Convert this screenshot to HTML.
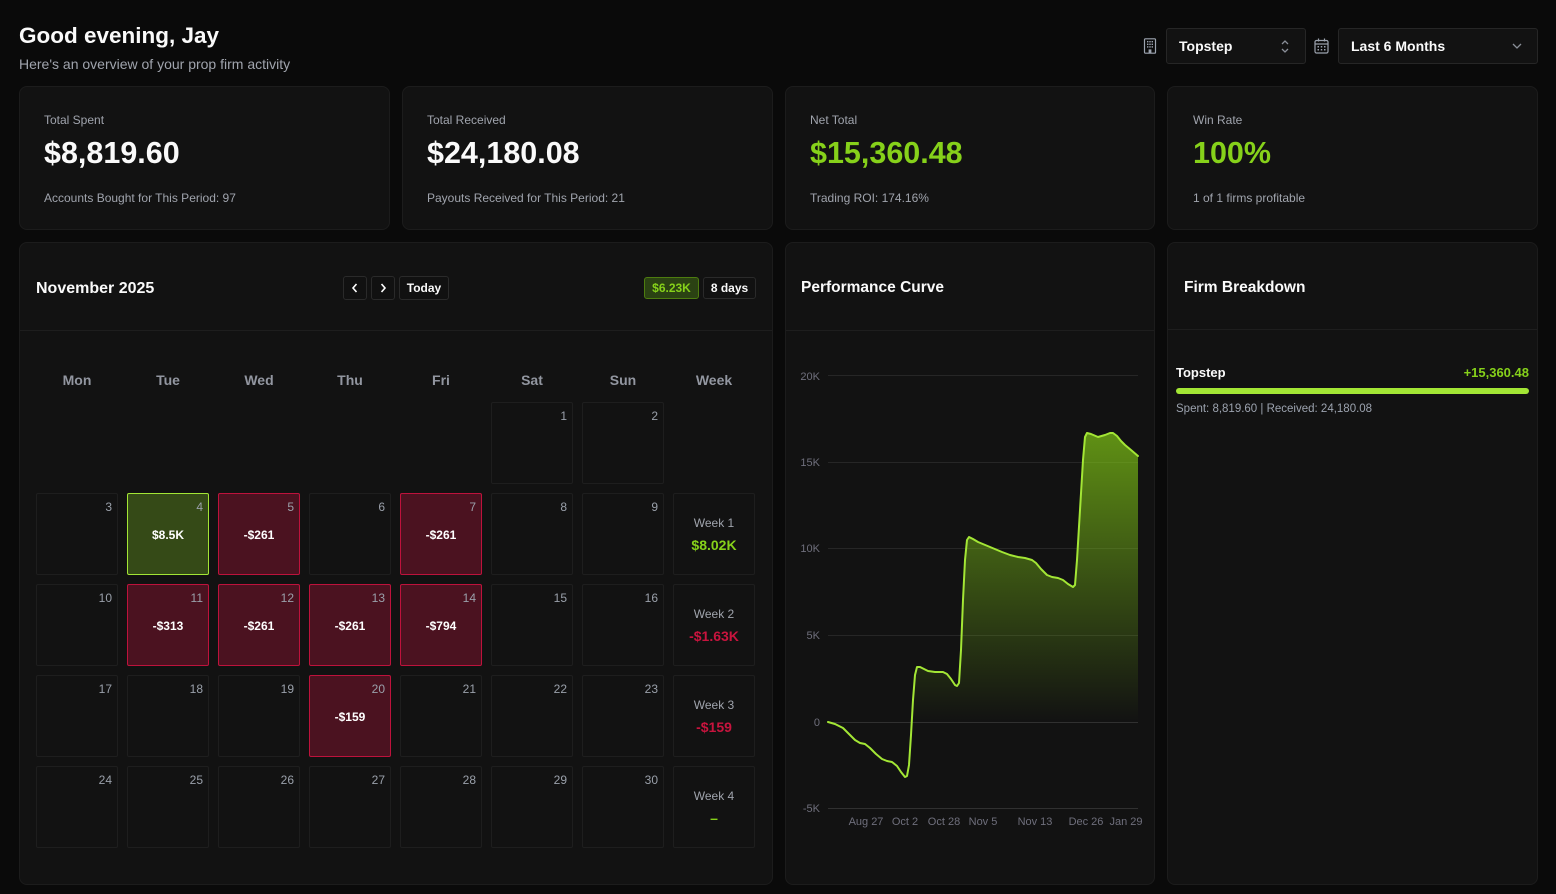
<!DOCTYPE html>
<html>
<head>
<meta charset="utf-8">
<style>
  *{margin:0;padding:0;box-sizing:border-box;}
  html,body{width:1556px;height:894px;overflow:hidden;background:#0a0a0a;font-family:"Liberation Sans",sans-serif;color:#fafafa;}
  .abs{position:absolute;}
  .card{position:absolute;background:#121212;border:1px solid #1c1c1c;border-radius:8px;}
  .lbl{position:absolute;font-size:12px;line-height:14px;color:#a0a4ad;white-space:nowrap;}
  .big{position:absolute;font-size:30.5px;line-height:36px;font-weight:bold;color:#fafafa;white-space:nowrap;}
  .green{color:#86d11a;}
  .sep{position:absolute;height:1px;background:#1e1e1e;}
  .btn{position:absolute;border:1px solid #2a2a2a;background:#111;border-radius:3px;font-size:12px;font-weight:bold;display:flex;align-items:center;justify-content:center;color:#fafafa;}
  .dh{position:absolute;width:82px;text-align:center;font-size:14px;line-height:16px;font-weight:bold;color:#9296a0;top:372px;}
  .cell{position:absolute;width:82px;height:82px;border:1px solid #1e1e1e;background:#121212;border-radius:2px;}
  .cell .n{position:absolute;right:5px;top:6px;font-size:12px;line-height:14px;color:#9aa0aa;}
  .cell .amt{position:absolute;left:0;right:0;top:34px;text-align:center;font-size:12px;line-height:14px;font-weight:bold;color:#fff;}
  .pos{background:#354a17;border:1px solid #a3e635;}
  .neg{background:#4b1220;border:1px solid #be123c;}
  .wk .wl{position:absolute;left:0;right:0;top:22px;text-align:center;font-size:12px;line-height:14px;color:#a0a4ad;}
  .wk .wv{position:absolute;left:0;right:0;top:43px;text-align:center;font-size:14px;line-height:16px;font-weight:bold;}
  .red{color:#c8143e;}
  .title{position:absolute;font-size:15.5px;line-height:18px;font-weight:bold;color:#fafafa;white-space:nowrap;}
</style>
</head>
<body>

<!-- Header -->
<div class="abs" style="left:19px;top:22px;font-size:22.5px;line-height:28px;font-weight:bold;white-space:nowrap;">Good evening, Jay</div>
<div class="abs" style="left:19px;top:56px;font-size:14px;line-height:17px;color:#a0a4ad;white-space:nowrap;">Here's an overview of your prop firm activity</div>

<!-- building icon -->
<svg class="abs" style="left:1143px;top:38px" width="14" height="16" viewBox="0 0 14 16">
  <rect x="1.5" y="0.8" width="11" height="14.4" rx="1" fill="none" stroke="#9ca3af" stroke-width="1.2"/>
  <g fill="#9ca3af">
    <rect x="4" y="3" width="1.4" height="1.4"/><rect x="6.3" y="3" width="1.4" height="1.4"/><rect x="8.6" y="3" width="1.4" height="1.4"/>
    <rect x="4" y="5.6" width="1.4" height="1.4"/><rect x="6.3" y="5.6" width="1.4" height="1.4"/><rect x="8.6" y="5.6" width="1.4" height="1.4"/>
    <rect x="4" y="8.2" width="1.4" height="1.4"/><rect x="6.3" y="8.2" width="1.4" height="1.4"/><rect x="8.6" y="8.2" width="1.4" height="1.4"/>
    <rect x="5.6" y="11.4" width="2.8" height="3.8"/>
  </g>
</svg>
<div class="abs" style="left:1166px;top:28px;width:140px;height:36px;border:1px solid #262626;background:#121212;border-radius:3px;"></div>
<div class="abs" style="left:1179px;top:38px;font-size:14px;line-height:17px;font-weight:bold;">Topstep</div>
<svg class="abs" style="left:1279px;top:39px" width="12" height="15" viewBox="0 0 12 15">
  <path d="M3 5 L6 2 L9 5 M3 10 L6 13 L9 10" fill="none" stroke="#8a8f98" stroke-width="1.3"/>
</svg>
<!-- calendar icon -->
<svg class="abs" style="left:1314px;top:38px" width="15" height="16" viewBox="0 0 15 16">
  <rect x="1" y="2.5" width="13" height="12.5" rx="1.5" fill="none" stroke="#9ca3af" stroke-width="1.2"/>
  <line x1="1" y1="6" x2="14" y2="6" stroke="#9ca3af" stroke-width="1.2"/>
  <line x1="4.5" y1="0.5" x2="4.5" y2="3.5" stroke="#9ca3af" stroke-width="1.2"/>
  <line x1="10.5" y1="0.5" x2="10.5" y2="3.5" stroke="#9ca3af" stroke-width="1.2"/>
  <g fill="#9ca3af"><rect x="3.5" y="8" width="1.5" height="1.5"/><rect x="6.75" y="8" width="1.5" height="1.5"/><rect x="10" y="8" width="1.5" height="1.5"/><rect x="3.5" y="11" width="1.5" height="1.5"/><rect x="6.75" y="11" width="1.5" height="1.5"/><rect x="10" y="11" width="1.5" height="1.5"/></g>
</svg>
<div class="abs" style="left:1338px;top:28px;width:200px;height:36px;border:1px solid #262626;background:#121212;border-radius:3px;"></div>
<div class="abs" style="left:1351px;top:38px;font-size:14px;line-height:17px;font-weight:bold;">Last 6 Months</div>
<svg class="abs" style="left:1511px;top:41px" width="12" height="10" viewBox="0 0 12 10">
  <path d="M2 3 L6 7 L10 3" fill="none" stroke="#8a8f98" stroke-width="1.3"/>
</svg>

<!-- Stat cards -->
<div class="card" style="left:19px;top:86px;width:371px;height:144px;"></div>
<div class="lbl" style="left:44px;top:113px;">Total Spent</div>
<div class="big" style="left:44px;top:135px;">$8,819.60</div>
<div class="lbl" style="left:44px;top:191px;">Accounts Bought for This Period: 97</div>

<div class="card" style="left:402px;top:86px;width:371px;height:144px;"></div>
<div class="lbl" style="left:427px;top:113px;">Total Received</div>
<div class="big" style="left:427px;top:135px;">$24,180.08</div>
<div class="lbl" style="left:427px;top:191px;">Payouts Received for This Period: 21</div>

<div class="card" style="left:785px;top:86px;width:370px;height:144px;"></div>
<div class="lbl" style="left:810px;top:113px;">Net Total</div>
<div class="big green" style="left:810px;top:135px;">$15,360.48</div>
<div class="lbl" style="left:810px;top:191px;">Trading ROI: 174.16%</div>

<div class="card" style="left:1167px;top:86px;width:371px;height:144px;"></div>
<div class="lbl" style="left:1193px;top:113px;">Win Rate</div>
<div class="big green" style="left:1193px;top:135px;">100%</div>
<div class="lbl" style="left:1193px;top:191px;">1 of 1 firms profitable</div>

<!-- Calendar card -->
<div class="card" style="left:19px;top:242px;width:754px;height:643px;"></div>
<div class="sep" style="left:20px;top:330px;width:752px;"></div>
<div class="abs" style="left:36px;top:279px;font-size:16px;line-height:19px;font-weight:bold;white-space:nowrap;">November 2025</div>
<div class="btn" style="left:343px;top:276px;width:24px;height:24px;">
  <svg width="10" height="12" viewBox="0 0 10 12"><path d="M6.5 2 L3 6 L6.5 10" fill="none" stroke="#fff" stroke-width="1.6"/></svg>
</div>
<div class="btn" style="left:371px;top:276px;width:24px;height:24px;">
  <svg width="10" height="12" viewBox="0 0 10 12"><path d="M3.5 2 L7 6 L3.5 10" fill="none" stroke="#fff" stroke-width="1.6"/></svg>
</div>
<div class="btn" style="left:399px;top:276px;width:50px;height:24px;">Today</div>
<div class="btn" style="left:644px;top:277px;width:55px;height:22px;background:#2b4213;border-color:#4d7c0f;color:#86d11a;">$6.23K</div>
<div class="btn" style="left:703px;top:277px;width:53px;height:22px;">8 days</div>

<div class="dh" style="left:36px;">Mon</div>
<div class="dh" style="left:127px;">Tue</div>
<div class="dh" style="left:218px;">Wed</div>
<div class="dh" style="left:309px;">Thu</div>
<div class="dh" style="left:400px;">Fri</div>
<div class="dh" style="left:491px;">Sat</div>
<div class="dh" style="left:582px;">Sun</div>
<div class="dh" style="left:673px;">Week</div>

<!-- Row 1 -->
<div class="cell" style="left:491px;top:402px;"><span class="n">1</span></div>
<div class="cell" style="left:582px;top:402px;"><span class="n">2</span></div>

<!-- Row 2 -->
<div class="cell" style="left:36px;top:493px;"><span class="n">3</span></div>
<div class="cell pos" style="left:127px;top:493px;"><span class="n">4</span><div class="amt">$8.5K</div></div>
<div class="cell neg" style="left:218px;top:493px;"><span class="n">5</span><div class="amt">-$261</div></div>
<div class="cell" style="left:309px;top:493px;"><span class="n">6</span></div>
<div class="cell neg" style="left:400px;top:493px;"><span class="n">7</span><div class="amt">-$261</div></div>
<div class="cell" style="left:491px;top:493px;"><span class="n">8</span></div>
<div class="cell" style="left:582px;top:493px;"><span class="n">9</span></div>
<div class="cell wk" style="left:673px;top:493px;"><div class="wl">Week 1</div><div class="wv green">$8.02K</div></div>

<!-- Row 3 -->
<div class="cell" style="left:36px;top:584px;"><span class="n">10</span></div>
<div class="cell neg" style="left:127px;top:584px;"><span class="n">11</span><div class="amt">-$313</div></div>
<div class="cell neg" style="left:218px;top:584px;"><span class="n">12</span><div class="amt">-$261</div></div>
<div class="cell neg" style="left:309px;top:584px;"><span class="n">13</span><div class="amt">-$261</div></div>
<div class="cell neg" style="left:400px;top:584px;"><span class="n">14</span><div class="amt">-$794</div></div>
<div class="cell" style="left:491px;top:584px;"><span class="n">15</span></div>
<div class="cell" style="left:582px;top:584px;"><span class="n">16</span></div>
<div class="cell wk" style="left:673px;top:584px;"><div class="wl">Week 2</div><div class="wv red">-$1.63K</div></div>

<!-- Row 4 -->
<div class="cell" style="left:36px;top:675px;"><span class="n">17</span></div>
<div class="cell" style="left:127px;top:675px;"><span class="n">18</span></div>
<div class="cell" style="left:218px;top:675px;"><span class="n">19</span></div>
<div class="cell neg" style="left:309px;top:675px;"><span class="n">20</span><div class="amt">-$159</div></div>
<div class="cell" style="left:400px;top:675px;"><span class="n">21</span></div>
<div class="cell" style="left:491px;top:675px;"><span class="n">22</span></div>
<div class="cell" style="left:582px;top:675px;"><span class="n">23</span></div>
<div class="cell wk" style="left:673px;top:675px;"><div class="wl">Week 3</div><div class="wv red">-$159</div></div>

<!-- Row 5 -->
<div class="cell" style="left:36px;top:766px;"><span class="n">24</span></div>
<div class="cell" style="left:127px;top:766px;"><span class="n">25</span></div>
<div class="cell" style="left:218px;top:766px;"><span class="n">26</span></div>
<div class="cell" style="left:309px;top:766px;"><span class="n">27</span></div>
<div class="cell" style="left:400px;top:766px;"><span class="n">28</span></div>
<div class="cell" style="left:491px;top:766px;"><span class="n">29</span></div>
<div class="cell" style="left:582px;top:766px;"><span class="n">30</span></div>
<div class="cell wk" style="left:673px;top:766px;"><div class="wl">Week 4</div><div class="wv green">–</div></div>

<!-- Performance card -->
<div class="card" style="left:785px;top:242px;width:370px;height:643px;"></div>
<div class="sep" style="left:786px;top:330px;width:368px;"></div>
<div class="title" style="left:801px;top:279px;">Performance Curve</div>

<!-- Firm card -->
<div class="card" style="left:1167px;top:242px;width:371px;height:643px;"></div>
<div class="sep" style="left:1168px;top:329px;width:369px;"></div>
<div class="title" style="left:1184px;top:279px;">Firm Breakdown</div>
<div class="abs" style="left:1176px;top:365px;font-size:13px;line-height:16px;font-weight:bold;">Topstep</div>
<div class="abs green" style="left:1400px;width:129px;text-align:right;top:365px;font-size:13px;line-height:16px;font-weight:bold;">+15,360.48</div>
<div class="abs" style="left:1176px;top:388px;width:353px;height:6px;border-radius:3px;background:#a3e635;"></div>
<div class="abs" style="left:1176px;top:402px;font-size:11.5px;line-height:14px;color:#9ca3af;white-space:nowrap;">Spent: 8,819.60 | Received: 24,180.08</div>

<!-- Chart -->
<svg class="abs" style="left:0;top:0" width="1556" height="894" viewBox="0 0 1556 894">
  <defs>
    <linearGradient id="fg" gradientUnits="userSpaceOnUse" x1="0" y1="433" x2="0" y2="722">
      <stop offset="0" stop-color="#84cc16" stop-opacity="0.68"/>
      <stop offset="1" stop-color="#84cc16" stop-opacity="0"/>
    </linearGradient>
  </defs>
  <g stroke="#262626" stroke-width="1">
    <line x1="828" y1="375.5" x2="1138" y2="375.5"/>
    <line x1="828" y1="462.5" x2="1138" y2="462.5"/>
    <line x1="828" y1="548.5" x2="1138" y2="548.5"/>
    <line x1="828" y1="635.5" x2="1138" y2="635.5"/>
    <line x1="828" y1="722.5" x2="1138" y2="722.5" stroke="#303030"/>
    <line x1="828" y1="808.5" x2="1138" y2="808.5" stroke="#303030"/>
  </g>
  <g font-family="Liberation Sans, sans-serif" font-size="11" fill="#6f6f7c" text-anchor="end">
    <text x="820" y="380">20K</text>
    <text x="820" y="466">15K</text>
    <text x="820" y="552">10K</text>
    <text x="820" y="639">5K</text>
    <text x="820" y="726">0</text>
    <text x="820" y="812">-5K</text>
  </g>
  <g font-family="Liberation Sans, sans-serif" font-size="11" fill="#6f6f7c" text-anchor="middle">
    <text x="866" y="825">Aug 27</text>
    <text x="905" y="825">Oct 2</text>
    <text x="944" y="825">Oct 28</text>
    <text x="983" y="825">Nov 5</text>
    <text x="1035" y="825">Nov 13</text>
    <text x="1086" y="825">Dec 26</text>
    <text x="1126" y="825">Jan 29</text>
  </g>
  <path fill="url(#fg)" d="M828,722 L835,724 L843,728 L849,734 L855,740 L860,743 L865,744 L870,748 L876,754 L882,759 L887,761 L892,762 L897,766 L901,772 L905,777 L907,776 L909,765 L911,735 L913,700 L915,675 L917,667 L920,667 L924,669 L928,671 L935,672 L943,672 L947,674 L951,679 L955,685 L957,686 L959,683 L961,650 L963,600 L965,560 L967,540 L969,537 L973,539 L978,542 L990,547 L1002,552 L1010,555 L1018,557 L1025,558 L1032,560 L1036,563 L1041,569 L1047,575 L1052,577 L1058,578 L1063,580 L1068,584 L1073,587 L1075,585 L1077,560 L1080,510 L1083,460 L1085,437 L1087,433 L1091,434 L1098,437 L1105,435 L1110,433 L1113,433 L1117,436 L1121,441 L1125,445 L1131,450 L1138,456 L1138,722 Z"/>
  <polyline fill="none" stroke="#a3e635" stroke-width="2" stroke-linejoin="round" stroke-linecap="round" points="828,722 835,724 843,728 849,734 855,740 860,743 865,744 870,748 876,754 882,759 887,761 892,762 897,766 901,772 905,777 907,776 909,765 911,735 913,700 915,675 917,667 920,667 924,669 928,671 935,672 943,672 947,674 951,679 955,685 957,686 959,683 961,650 963,600 965,560 967,540 969,537 973,539 978,542 990,547 1002,552 1010,555 1018,557 1025,558 1032,560 1036,563 1041,569 1047,575 1052,577 1058,578 1063,580 1068,584 1073,587 1075,585 1077,560 1080,510 1083,460 1085,437 1087,433 1091,434 1098,437 1105,435 1110,433 1113,433 1117,436 1121,441 1125,445 1131,450 1138,456"/>
</svg>

</body>
</html>
